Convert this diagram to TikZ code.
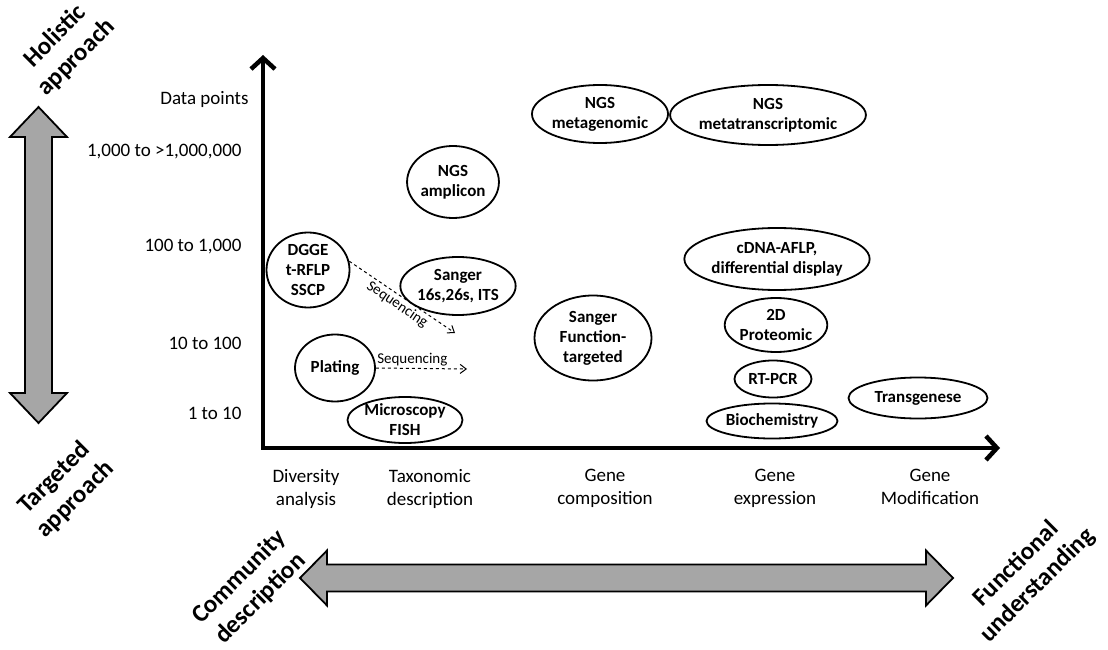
\documentclass[tikz,border=0pt]{standalone}
\usepackage{fontspec}
\setmainfont{Carlito}
\usetikzlibrary{arrows.meta,shapes.geometric}
\tikzset{
	blob/.style 2 args={ellipse,draw,line width=1.8pt,inner sep=0pt,minimum width=#1pt,minimum height=#2pt,align=center,font=\bfseries\fontsize{17}{20}\selectfont},
	ylab/.style={anchor=east,font=\fontsize{19}{22}\selectfont},
	xlab/.style={align=center,anchor=north,inner sep=0pt,font=\fontsize{19}{23}\selectfont},
	side/.style={align=center,rotate=45,inner sep=0pt,font=\bfseries\fontsize{25}{30}\selectfont},
	seq/.style={dashed,line width=1pt,-{Straight Barb[length=6pt,width=9pt]}},
	seqlab/.style={font=\fontsize{15}{17}\selectfont,inner sep=2pt},
	fat/.style={fill=black!35,draw,line width=1.8pt,line join=miter}
}

\begin{document}
\begin{tikzpicture}[x=1pt,y=-1pt]
	\useasboundingbox (0,0) rectangle (1108,650);

	% axes
	\coordinate (ytop) at (263,55);
	\coordinate (o) at (263,448);
	\coordinate (xend) at (1000,448);
	\draw [line width=4.5pt,line join=miter,{Straight Barb[length=11pt,width=24pt]}-{Straight Barb[length=11pt,width=24pt]}] (ytop) -- (o) -- (xend);

	\node [ylab] (dp) at (252,99) {Data points};
	\node [ylab] (y4) at (245,152) {1,000 to >1,000,000};
	\node [ylab] (y3) at (245,247) {100 to 1,000};
	\node [ylab] (y2) at (245,343) {10 to 100};
	\node [ylab] (y1) at (245,413) {1 to 10};

	\node [xlab] (div) at (306,469) {Diversity\\analysis};
	\node [xlab] (tax) at (430,469) {Taxonomic\\description};
	\node [xlab] (comp) at (605,469) {Gene\\composition};
	\node [xlab] (expr) at (775,469) {Gene\\expression};
	\node [xlab] (modif) at (930,469) {Gene\\Modification};

	% methods
	\node [blob={130}{58}] (metag) at (600,114) {NGS\\metagenomic};
	\node [blob={165}{60}] (metat) at (768,115) {NGS\\metatranscriptomic};
	\node [blob={78}{72}] (ampl) at (453,182) {NGS\\amplicon};
	\node [blob={83}{75}] (dgge) at (308,270) {DGGE\\t-RFLP\\SSCP};
	\node [blob={100}{58}] (sang) at (458,286) {Sanger\\16s,26s, ITS};
	\node [blob={80}{67}] (plat) at (335,368) {Plating};
	\node [blob={115}{46}] (micro) at (405,420) {Microscopy\\FISH};
	\node [blob={117}{85}] (sfun) at (593,338) {Sanger\\Function-\\targeted};
	\node [blob={143}{62}] (cdna) at (777,259) {cDNA-AFLP,\\differential display};
	\node [blob={102}{54}] (prot) at (776,325) {2D\\Proteomic};
	\node [blob={77}{37}] (rtpcr) at (773,379) {RT-PCR};
	\node [blob={131}{35}] (bioch) at (772,421) {Biochemistry};
	\node [blob={139}{41}] (trans) at (918,398) {Transgenese};

	\coordinate (s1) at (455,333);
	\coordinate (s2) at (467,369);
	\draw [seq] (dgge.12) -- node [seqlab,sloped,below] {Sequencing} (s1);
	\draw [seq] (plat.east) -- node [seqlab,above,pos=0.4] {Sequencing} (s2);

	% big grey arrows
	\draw [fat] (38.5,107) -- (67,137) -- (52,137) -- (52,393) -- (67,393) -- (38.5,423)
		-- (10,393) -- (25,393) -- (25,137) -- (10,137) -- cycle;
	\draw [fat] (300,578) -- (327,550.5) -- (327,564.5) -- (926,564.5) -- (926,550.5) -- (953,578)
		-- (926,605.5) -- (926,591.5) -- (327,591.5) -- (327,605.5) -- cycle;

	\node [side] (hol) at (66,47) {Holistic\\approach};
	\node [side] (targ) at (65,489) {Targeted\\approach};
	\node [side] (comm) at (250,588) {Community\\description};
	\node [side] (func) at (1027,575) {Functional\\understanding};
\end{tikzpicture}
\end{document}
